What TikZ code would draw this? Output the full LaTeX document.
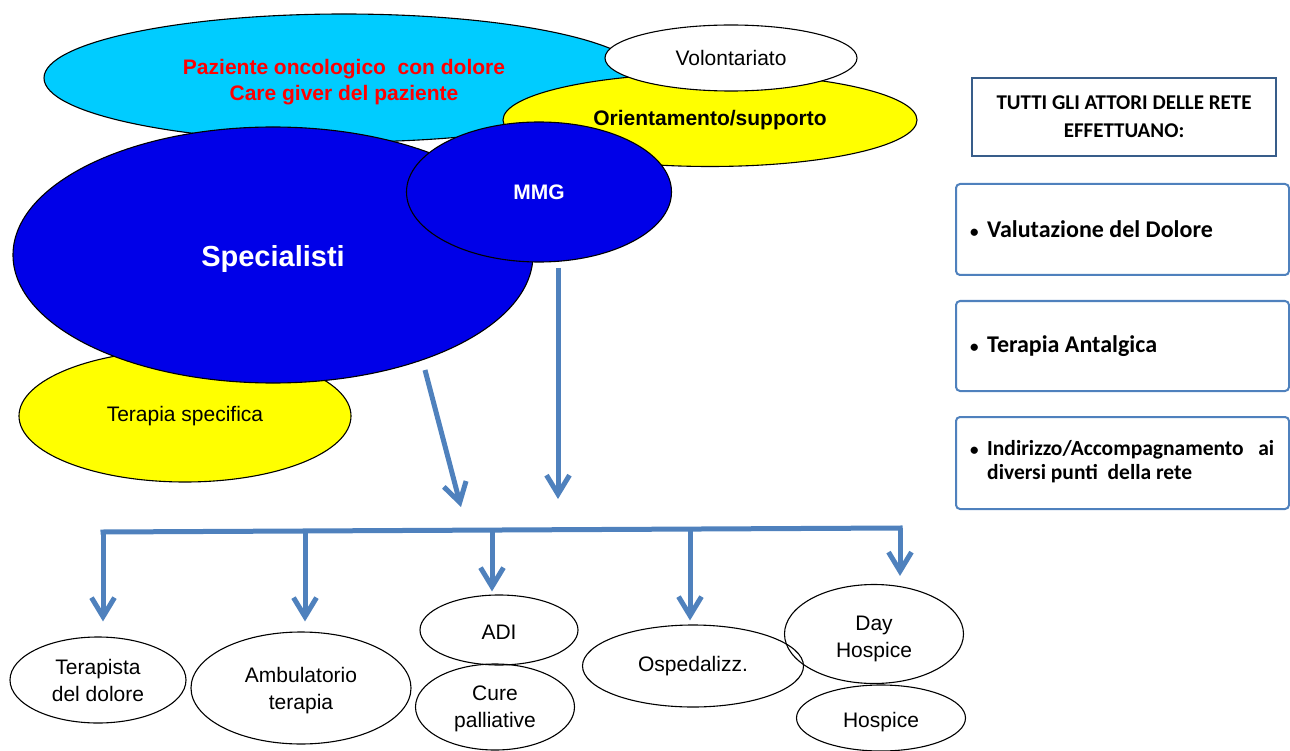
\documentclass[tikz,border=0pt]{standalone}
\usepackage{fontspec}
\setmainfont{Liberation Sans}
\newfontfamily\calfont{Carlito}
\usetikzlibrary{shapes.geometric,arrows.meta}
\definecolor{cyanfill}{RGB}{0,204,255}
\definecolor{bluefill}{RGB}{0,0,232}
\definecolor{yellowfill}{RGB}{255,255,0}
\definecolor{flowblue}{RGB}{79,129,189}
\definecolor{framedark}{RGB}{56,93,138}
\newcommand{\itembullet}{\makebox[17pt][l]{\fontsize{17}{17}\selectfont\textbullet}}
\begin{document}
\begin{tikzpicture}[x=1pt,y=-1pt,
  oval/.style={ellipse,draw=black,line width=1.1pt,inner sep=0pt,align=center},
  lbl/.style={inner sep=0pt,align=center},
  big/.style={font=\fontsize{21}{26}\selectfont\bfseries},
  plain/.style={font=\fontsize{21}{27}\selectfont},
  flow/.style={draw=flowblue,line width=5pt,-{Straight Barb[length=19pt,width=23pt]}},
  bar/.style={draw=flowblue,line width=5pt,line cap=rect},
  headbox/.style={rectangle,draw=framedark,line width=2pt,fill=white,align=center,
    font=\calfont\bfseries\fontsize{21}{28}\selectfont},
  itembox/.style={rectangle,rounded corners=4pt,draw=flowblue,line width=2pt,fill=white},
  itemtext/.style={anchor=west,inner sep=0pt,align=left,font=\calfont\bfseries}]
\useasboundingbox (0,0) rectangle (1290,751);

% upper cluster of actors
\node[oval,fill=cyanfill,minimum width=600pt,minimum height=128pt] (paz) at (344,78) {};
\node[lbl,big,text=red] (paz-t) at ([yshift=-4pt]paz.center)
  {Paziente oncologico\ \ con dolore\\Care giver del paziente};
\node[oval,fill=yellowfill,minimum width=414pt,minimum height=93pt,big]
  (ori) at (710,120) {Orientamento/supporto};
\node[oval,fill=white,minimum width=252pt,minimum height=66pt,plain]
  (vol) at (731,58) {Volontariato};
\node[oval,fill=yellowfill,minimum width=332pt,minimum height=132pt,plain]
  (ter) at (185,416) {Terapia specifica};
\node[oval,fill=bluefill,minimum width=520pt,minimum height=256pt] (spe) at (273,255) {};
\node[lbl,text=white,font=\fontsize{29}{34}\selectfont\bfseries]
  (spe-t) at ([yshift=-4pt]spe.center) {Specialisti};
\node[oval,fill=bluefill,minimum width=265pt,minimum height=140pt,text=white,
  font=\fontsize{21}{25}\selectfont\bfseries]
  (mmg) at (539,192) {MMG};

% arrows down to the network
\coordinate (a1s) at (425,370);
\coordinate (a1e) at (461,507);
\coordinate (a2s) at (558,268);
\coordinate (a2e) at (558,499);
\draw[flow] (a1s) -- (a1e);
\draw[flow] (a2s) -- (a2e);

% points of the network
\node[oval,minimum width=176pt,minimum height=86pt,plain]
  (tdd) at (98,680) {Terapista\\del dolore};
\node[oval,minimum width=220pt,minimum height=112pt] (amb) at (301,688) {};
\node[lbl,plain] (amb-t) at ([yshift=-3pt]amb.center) {Ambulatorio\\terapia};
\node[oval,minimum width=158pt,minimum height=70pt] (adi) at (499,630) {};
\node[lbl,plain] (adi-t) at ([yshift=-2pt]adi.center) {ADI};
\node[oval,minimum width=159pt,minimum height=86pt] (cpa) at (495,707) {};
\node[lbl,plain] (cpa-t) at ([yshift=-2pt]cpa.center) {Cure\\palliative};
\node[oval,minimum width=221pt,minimum height=82pt,plain]
  (osp) at (693,666) {Ospedalizz.};
\node[oval,minimum width=169pt,minimum height=66pt] (hos) at (881,718) {};
\node[lbl,plain] (hos-t) at ([yshift=-4pt]hos.center) {Hospice};
\node[oval,minimum width=179pt,minimum height=99pt] (dho) at (874,634) {};
\node[lbl,plain] (dho-t) at ([yshift=-5pt]dho.center) {Day\\Hospice};

% distribution bar
\coordinate (c1) at (103,532);
\coordinate (c2) at (305,531);
\coordinate (c3) at (492,530);
\coordinate (c4) at (690,529);
\coordinate (c5) at (900,528);
\draw[bar] (c1) -- (c5);
\draw[flow,shorten >=15pt] (c1) -- (c1 |- tdd.north);
\draw[flow,shorten >=10pt] (c2) -- (c2 |- amb.north);
\draw[flow,shorten >=3pt] (c3) -- (c3 |- adi.north);
\draw[flow,shorten >=4pt] (c4) -- (c4 |- osp.north);
\draw[flow,shorten >=8pt] (c5) -- (c5 |- dho.north);

% what every actor does
\node[headbox,minimum width=304pt,minimum height=78pt]
  (hdr) at (1124,117) {TUTTI GLI ATTORI DELLE RETE\\EFFETTUANO:};
\node[itembox,minimum width=333pt,minimum height=91pt] (b1) at (1122.5,229.5) {};
\node[itembox,minimum width=333pt,minimum height=90pt] (b2) at (1122.5,346) {};
\node[itembox,minimum width=333pt,minimum height=92pt] (b3) at (1122.5,463) {};
\node[itemtext,font=\calfont\bfseries\fontsize{24}{29}\selectfont]
  (t1) at ([xshift=15pt]b1.west) {\itembullet Valutazione del Dolore};
\node[itemtext,font=\calfont\bfseries\fontsize{24}{29}\selectfont]
  (t2) at ([xshift=15pt]b2.west) {\itembullet Terapia Antalgica};
\node[itemtext,font=\calfont\bfseries\fontsize{21.5}{24}\selectfont]
  (t3) at ([xshift=15pt]b3.west)
  {\begin{tabular}{@{}l@{}l@{}}
   \itembullet & Indirizzo/Accompagnamento\ \ \ ai\\
   & diversi punti\ \ della rete
   \end{tabular}};
\end{tikzpicture}
\end{document}
